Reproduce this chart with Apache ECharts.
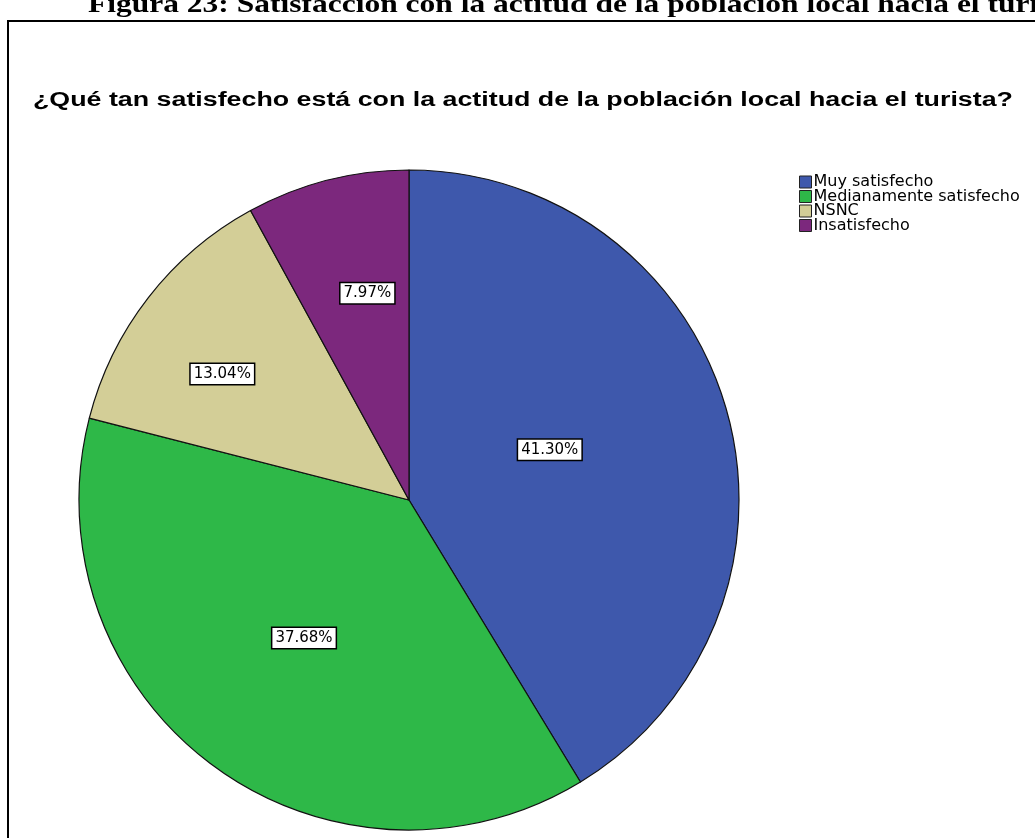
<!DOCTYPE html>
<html>
<head>
<meta charset="utf-8">
<script src="https://cdn.jsdelivr.net/npm/echarts@6/dist/echarts.min.js"></script>
<style>
html,body{margin:0;padding:0;background:#fff;}
#c{width:1035px;height:838px;}
</style>
</head>
<body>
<div id="c"></div>
<script>
const categories = ['Muy satisfecho', 'Medianamente satisfecho', 'NSNC', 'Insatisfecho'];
const percents = [41.30, 37.68, 13.04, 7.97];
const colors = ['#3e58ac', '#2eb848', '#d3ce97', '#7c287d'];
const captionText = 'Figura 23: Satisfacción con la actitud de la población local hacia el turista';
const titleText = '¿Qué tan satisfecho está con la actitud de la población local hacia el turista?';
const labelShift = [[-21, -5], [-5, 3], [-54, -23], [0, -44]];

const chart = echarts.init(document.getElementById('c'));
chart.setOption({
  animation: false,
  backgroundColor: '#fff',
  graphic: [
    { type: 'text', x: 88, y: 18, scaleX: 1.26, z: 1,
      style: { text: captionText, font: 'bold 25px "Liberation Serif", "Times New Roman", serif',
               fill: '#000', verticalAlign: 'bottom', textVerticalAlign: 'bottom' } },
    { type: 'rect', shape: { x: 8, y: 21, width: 1100, height: 900 },
      style: { fill: 'none', stroke: '#000', lineWidth: 2 }, z: 2 },
    { type: 'text', x: 33, y: 100, scaleX: 1.34,
      style: { text: titleText, font: 'bold 20px "Liberation Sans", Arial, sans-serif',
               fill: '#000', verticalAlign: 'middle', textVerticalAlign: 'middle' } }
  ],
  legend: {
    orient: 'vertical',
    left: 794, top: 169,
    itemWidth: 12, itemHeight: 12, itemGap: -1.5,
    icon: 'rect',
    itemStyle: { borderColor: '#222', borderWidth: 1 },
    textStyle: { fontFamily: '"DejaVu Sans", sans-serif', fontSize: 16, lineHeight: 14.5, color: '#000', padding: [0, 0, 0, -3] },
    data: categories
  },
  series: [{
    type: 'pie',
    center: [409, 500],
    radius: [0, 330],
    startAngle: 90,
    clockwise: true,
    avoidLabelOverlap: false,
    itemStyle: { borderColor: '#111', borderWidth: 1.2 },
    label: {
      show: true,
      position: 'inside',
      formatter: p => percents[p.dataIndex].toFixed(2) + '%',
      fontFamily: '"DejaVu Sans", sans-serif',
      fontSize: 15,
      color: '#000',
      backgroundColor: '#fff',
      borderColor: '#000',
      borderWidth: 1.5,
      padding: [3, 3, 2, 3]
    },
    labelLine: { show: false },
    labelLayout: p => ({ dx: labelShift[p.dataIndex][0], dy: labelShift[p.dataIndex][1] }),
    emphasis: { disabled: true },
    data: categories.map((c, i) => ({ name: c, value: percents[i], itemStyle: { color: colors[i] } }))
  }]
});
</script>
</body>
</html>
